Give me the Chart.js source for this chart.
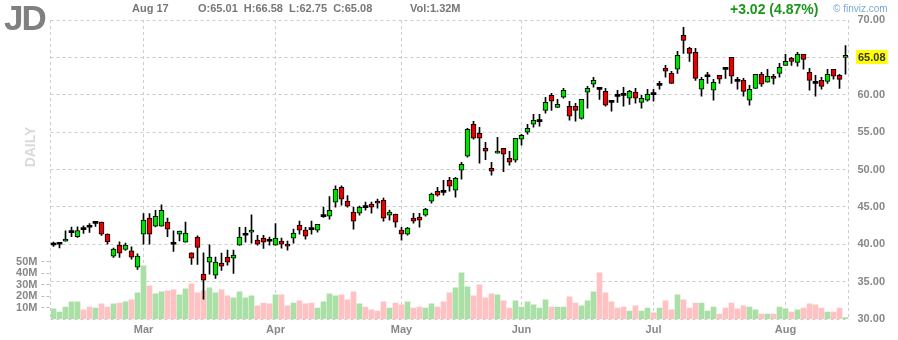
<!DOCTYPE html>
<html>
<head>
<meta charset="utf-8">
<title>JD daily</title>
<script src="https://cdn.jsdelivr.net/npm/chart.js@4.4.0/dist/chart.umd.min.js"></script>
<style>
  body { margin: 0; background: #fff; }
  #wrap { position: relative; width: 898px; height: 340px; font-family: Arial, "Liberation Sans", sans-serif; }
  #chart { position: absolute; left: 0; top: 0; }
  .t { position: absolute; white-space: pre; line-height: 1; }
  #sym { left: 4px; top: 0; font-size: 35px; font-weight: bold; color: #808080; letter-spacing: -2px; }
  #date, #ohlc, #vol { top: 3px; font-size: 11px; font-weight: bold; color: #777; }
  #date { left: 132px; }
  #ohlc { left: 198px; }
  #vol { left: 410px; }
  #chg { left: 730px; top: 2px; font-size: 14px; font-weight: bold; color: #1c961c; }
  #src { left: 833px; top: 4px; font-size: 10px; color: #7aa7d6; }
  #daily { left: 30px; top: 147px; font-size: 14px; font-weight: bold; color: #dadada;
           transform: translate(-50%, -50%) rotate(-90deg); }
</style>
</head>
<body>
<div id="wrap">
  <canvas id="chart" width="898" height="340"></canvas>
  <div class="t" id="sym">JD</div>
  <div class="t" id="date">Aug 17</div>
  <div class="t" id="ohlc">O:65.01  H:66.58  L:62.75  C:65.08</div>
  <div class="t" id="vol">Vol:1.32M</div>
  <div class="t" id="chg">+3.02 (4.87%)</div>
  <div class="t" id="src">© finviz.com</div>
  <div class="t" id="daily">DAILY</div>
</div>
<script>
// trading days, Feb 7 - Aug 17 2020
const days = [
  'Feb 7','Feb 10','Feb 11','Feb 12','Feb 13','Feb 14','Feb 18','Feb 19','Feb 20','Feb 21','Feb 24','Feb 25','Feb 26','Feb 27','Feb 28',
  'Mar 2','Mar 3','Mar 4','Mar 5','Mar 6','Mar 9','Mar 10','Mar 11','Mar 12','Mar 13','Mar 16','Mar 17','Mar 18','Mar 19','Mar 20','Mar 23','Mar 24','Mar 25','Mar 26','Mar 27','Mar 30','Mar 31',
  'Apr 1','Apr 2','Apr 3','Apr 6','Apr 7','Apr 8','Apr 9','Apr 13','Apr 14','Apr 15','Apr 16','Apr 17','Apr 20','Apr 21','Apr 22','Apr 23','Apr 24','Apr 27','Apr 28','Apr 29','Apr 30',
  'May 1','May 4','May 5','May 6','May 7','May 8','May 11','May 12','May 13','May 14','May 15','May 18','May 19','May 20','May 21','May 22','May 26','May 27','May 28','May 29',
  'Jun 1','Jun 2','Jun 3','Jun 4','Jun 5','Jun 8','Jun 9','Jun 10','Jun 11','Jun 12','Jun 15','Jun 16','Jun 17','Jun 18','Jun 19','Jun 22','Jun 23','Jun 24','Jun 25','Jun 26','Jun 29','Jun 30',
  'Jul 1','Jul 2','Jul 6','Jul 7','Jul 8','Jul 9','Jul 10','Jul 13','Jul 14','Jul 15','Jul 16','Jul 17','Jul 20','Jul 21','Jul 22','Jul 23','Jul 24','Jul 27','Jul 28','Jul 29','Jul 30','Jul 31',
  'Aug 3','Aug 4','Aug 5','Aug 6','Aug 7','Aug 10','Aug 11','Aug 12','Aug 13','Aug 14','Aug 17'
];

const opens = [
  39.90,40.00,40.40,41.55,41.03,41.98,42.29,42.79,42.95,41.35,38.41,39.88,39.30,39.12,36.93,
  41.35,43.49,42.42,42.42,42.95,40.02,41.35,40.28,38.85,40.95,36.00,37.60,35.87,37.47,38.27,38.14,39.88,41.20,41.61,40.55,40.81,40.42,
  39.88,40.41,40.01,40.81,42.55,41.88,41.98,41.88,43.70,43.75,45.62,47.63,45.76,44.29,44.15,44.92,45.36,45.76,45.89,43.89,44.02,
  41.88,41.35,43.49,43.62,43.89,45.76,47.09,46.97,48.56,47.23,49.90,51.77,56.05,54.85,52.84,50.17,52.18,52.84,51.50,51.24,
  54.05,54.98,56.05,56.40,57.92,59.93,58.32,59.66,58.46,58.46,56.85,60.33,61.40,60.74,60.46,59.00,59.81,59.94,59.53,60.33,58.99,59.26,
  60.03,61.26,63.54,62.87,63.41,67.95,66.21,65.68,60.73,62.41,60.60,62.60,63.42,65.01,61.81,61.93,59.26,60.86,62.74,61.67,62.47,62.87,
  63.94,64.88,64.34,65.41,63.00,61.54,61.93,61.80,63.41,62.60,65.01
];
const highs = [
  40.30,40.10,41.80,42.30,42.33,42.46,42.77,43.04,42.95,41.40,39.48,40.32,40.14,39.65,38.72,
  44.11,44.11,44.55,45.27,43.49,41.79,41.75,42.95,38.85,41.12,38.85,39.92,38.27,38.81,39.21,39.21,42.28,42.28,43.93,41.21,41.21,40.95,
  42.77,40.81,40.41,42.02,43.09,42.28,43.09,42.68,44.96,46.38,47.81,47.81,46.50,44.96,45.09,45.63,45.63,46.03,46.16,44.56,44.02,
  42.28,42.28,44.15,44.15,44.82,46.83,47.63,48.56,48.96,48.96,50.97,55.52,56.45,55.65,53.65,50.97,54.32,52.84,52.44,54.18,
  54.72,56.05,57.39,57.39,59.66,60.20,59.39,60.86,59.13,58.86,59.39,61.13,62.33,60.86,60.86,59.00,60.60,61.00,60.60,60.86,59.93,60.73,
  60.73,61.80,63.94,63.14,65.81,69.02,66.35,66.21,62.34,63.00,62.07,62.60,63.67,65.01,62.34,62.20,61.27,62.74,63.00,63.41,62.74,64.21,
  65.41,65.01,65.68,65.41,63.54,62.60,62.34,63.41,63.41,62.74,66.58
];
const lows = [
  39.70,39.50,40.40,41.00,40.90,41.44,41.57,42.37,41.17,40.00,38.23,38.23,39.16,38.00,36.62,
  40.01,40.01,42.33,42.42,41.03,39.03,40.46,40.28,37.29,37.29,32.66,36.00,35.42,36.49,37.20,36.09,39.88,40.28,40.14,39.88,39.43,39.88,
  39.88,39.48,39.21,40.14,41.35,40.68,41.35,41.61,43.60,43.35,44.96,45.22,44.96,42.02,43.89,44.56,44.15,44.82,43.09,43.22,42.28,
  40.55,41.21,42.82,42.28,43.75,45.49,46.43,46.56,47.09,46.29,48.70,51.64,54.05,50.84,51.33,49.23,52.18,49.72,50.57,50.97,
  53.24,54.72,55.65,55.78,57.52,57.92,58.32,59.53,56.59,56.45,56.72,58.19,61.00,59.39,58.46,57.79,58.99,58.46,58.72,58.86,58.19,59.13,
  59.13,60.73,62.34,61.53,62.87,65.54,64.47,61.93,59.80,61.53,59.26,61.53,62.20,61.53,60.73,59.80,58.59,60.86,61.13,61.67,61.40,62.34,
  63.94,63.94,63.81,63.41,60.60,59.80,60.73,61.53,62.07,60.86,62.75
];
const closes = [
  39.92,40.02,40.70,41.57,41.84,41.96,42.27,42.81,41.35,40.32,39.34,38.81,39.88,38.27,38.41,
  43.22,41.35,43.75,44.55,42.02,40.00,41.75,41.48,38.14,39.56,35.20,38.27,37.60,37.07,37.60,38.54,40.95,41.22,41.88,40.01,40.28,40.40,
  40.81,40.01,39.74,41.48,41.88,41.08,41.96,42.68,43.72,44.55,47.36,46.03,45.09,43.09,44.96,44.90,44.96,45.49,43.49,44.29,42.95,
  41.35,42.15,43.09,43.22,44.69,46.70,46.56,46.95,47.76,48.83,50.70,55.38,54.18,54.18,52.44,49.77,52.44,52.04,50.97,54.18,
  54.58,55.52,56.59,56.42,58.99,59.13,58.72,60.60,57.12,57.92,59.39,60.86,61.93,60.72,58.59,58.98,59.79,59.92,60.46,59.53,59.53,60.06,
  60.01,61.28,63.14,61.53,65.28,67.28,65.54,62.20,62.07,62.43,61.67,62.07,63.40,62.47,61.79,60.46,60.73,62.74,61.40,62.47,62.20,63.67,
  64.47,64.47,65.41,64.74,61.93,61.52,61.13,62.74,62.47,62.06,65.08
];
// volume, millions of shares
const volumes = [
  8.8,6.1,10.5,14.9,14.9,7.9,10.5,9.6,13.2,10.5,13.2,14.0,14.9,16.7,22.8,
  46.5,29.0,21.9,23.7,24.6,25.4,21.1,26.3,30.7,22.8,24.6,27.2,22.8,25.4,20.2,18.4,23.7,18.4,20.2,11.4,14.0,13.2,
  21.1,21.1,11.4,14.0,15.8,13.2,14.0,9.6,14.9,21.9,20.2,21.1,16.7,23.7,13.2,10.5,7.9,7.0,14.9,9.6,14.0,
  12.3,14.9,9.6,10.5,9.6,13.2,10.5,14.9,22.8,27.2,40.4,28.1,20.2,29.8,18.4,21.9,21.1,15.8,9.6,15.8,
  10.5,14.9,12.3,9.6,16.7,10.5,10.5,10.5,19.3,14.0,11.4,15.8,23.7,40.4,22.8,14.9,9.6,10.5,7.0,11.4,7.0,9.6,
  5.3,9.6,15.8,7.9,21.1,16.7,9.6,14.0,14.0,7.0,10.5,4.4,9.6,14.0,8.8,11.4,10.5,7.9,4.4,4.4,4.4,10.5,
  8.8,6.1,7.9,9.6,13.2,12.3,9.6,6.1,6.1,9.6,1.32
];
const priceTicks = [30, 35, 40, 45, 50, 55, 60, 65, 70];
const volumeTicks = [10, 20, 30, 40, 50];

const UP = '#00e000', DOWN = '#e60000';
const VOL_UP = '#aadfa6', VOL_DOWN = '#ffc1c1';
const GRID = '#cdcdcd', TEXT = '#888';
const FONT = { family: 'Arial, "Liberation Sans", sans-serif', size: 11, weight: 'bold' };

const last = closes.length - 1;
const isDoji = i => Math.abs(closes[i] - opens[i]) < 0.05;
const isUp = i => closes[i] >= opens[i];
const monthStart = i => i > 0 && days[i].slice(0, 3) !== days[i - 1].slice(0, 3);

// dashed left/right frame
const frame = {
  id: 'frame',
  beforeDatasetsDraw(chart) {
    const { ctx, chartArea: a } = chart;
    ctx.save();
    ctx.strokeStyle = GRID;
    ctx.lineWidth = 1;
    ctx.setLineDash([3, 3]);
    ctx.beginPath();
    ctx.moveTo(a.left, a.top); ctx.lineTo(a.left, a.bottom);
    ctx.moveTo(a.right, a.top); ctx.lineTo(a.right, a.bottom);
    ctx.stroke();
    ctx.restore();
  }
};

// yellow tag with the last close on the price axis
const lastTag = {
  id: 'lastTag',
  afterDraw(chart) {
    const { ctx, chartArea: a } = chart;
    const y = Math.round(chart.scales.y.getPixelForValue(closes[last]));
    const text = closes[last].toFixed(2);
    ctx.save();
    ctx.font = 'bold 11px Arial, "Liberation Sans", sans-serif';
    const w = ctx.measureText(text).width;
    ctx.fillStyle = '#ffff00';
    ctx.fillRect(a.right + 7.5, y - 7, w + 4, 14);
    ctx.fillStyle = '#333';
    ctx.textBaseline = 'middle';
    ctx.fillText(text, a.right + 9.5, y + 0.5);
    ctx.restore();
  }
};

new Chart(document.getElementById('chart'), {
  type: 'bar',
  data: {
    labels: days,
    datasets: [
      {
        label: 'Body',
        data: opens.map((o, i) => [o, closes[i]]),
        yAxisID: 'y',
        grouped: false,
        barThickness: 5,
        minBarLength: 2,
        backgroundColor: opens.map((o, i) => isDoji(i) ? '#000' : (isUp(i) ? UP : DOWN)),
        borderColor: '#000',
        borderWidth: opens.map((o, i) => isDoji(i) ? 0 : 1),
        borderSkipped: false,
        order: 1
      },
      {
        label: 'Wick',
        data: lows.map((l, i) => [l, highs[i]]),
        yAxisID: 'y',
        grouped: false,
        barThickness: 1,
        backgroundColor: '#000',
        order: 2
      },
      {
        label: 'Volume',
        data: volumes,
        yAxisID: 'vol',
        grouped: false,
        barThickness: 5,
        backgroundColor: volumes.map((v, i) => isUp(i) ? VOL_UP : VOL_DOWN),
        order: 3
      }
    ]
  },
  options: {
    responsive: false,
    animation: false,
    layout: { padding: { top: 20 } },
    plugins: { legend: { display: false }, tooltip: { enabled: false } },
    scales: {
      x: {
        offset: true,
        grid: {
          offset: false,
          drawTicks: false,
          color: c => monthStart(c.index) ? GRID : 'transparent'
        },
        border: { display: false, dash: [3, 3] },
        ticks: {
          autoSkip: false,
          maxRotation: 0,
          padding: 4,
          color: TEXT,
          font: FONT,
          callback: (v, i) => monthStart(i) ? days[i].slice(0, 3) : ''
        },
        afterFit: s => { s.height = 21; }
      },
      y: {
        position: 'right',
        min: 30,
        max: 70,
        afterBuildTicks: s => { s.ticks = priceTicks.map(value => ({ value })); },
        grid: { color: GRID, drawTicks: false },
        border: { display: false, dash: [3, 3] },
        ticks: {
          padding: 9,
          color: TEXT,
          font: FONT,
          callback: v => Math.abs(v - closes[last]) < 1 ? '' : v.toFixed(2)
        },
        afterFit: s => { s.width = 49.5; }
      },
      vol: {
        position: 'left',
        min: 0,
        max: 261,
        afterBuildTicks: s => { s.ticks = volumeTicks.map(value => ({ value })); },
        grid: {
          drawOnChartArea: false,
          tickLength: 9,
          tickColor: '#bbb',
          tickBorderDash: [3, 2]
        },
        border: { display: false },
        ticks: {
          padding: 4,
          color: TEXT,
          font: FONT,
          callback: v => v + 'M'
        },
        afterFit: s => { s.width = 50.5; }
      }
    }
  },
  plugins: [frame, lastTag]
});
</script>
</body>
</html>
